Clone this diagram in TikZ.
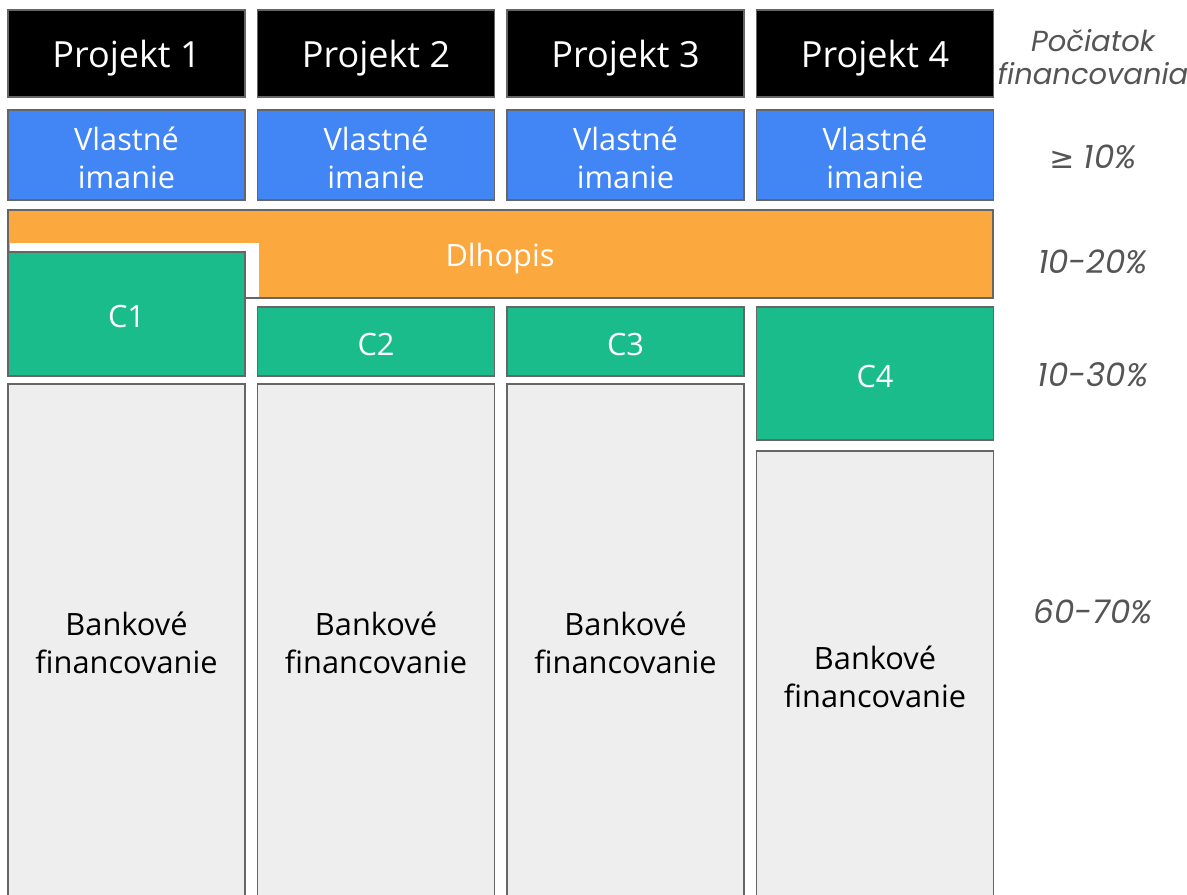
\documentclass[tikz,border=0pt]{standalone}
\usepackage{fontspec}
\setmainfont{Open Sans}
\newfontfamily\notefont{Poppins}
\newfontfamily\symfont{DejaVu Sans}

\definecolor{boxline}{HTML}{666666}
\definecolor{vlastne}{HTML}{4285F4}
\definecolor{dlhopis}{HTML}{FBA93F}
\definecolor{cfin}{HTML}{1ABC8C}
\definecolor{banka}{HTML}{EEEEEE}
\definecolor{notegray}{HTML}{555555}

\begin{document}
\begin{tikzpicture}[x=0.02cm, y=-0.02cm,
  box/.style={draw=boxline, line width=1.1pt},
  big/.style={font=\fontsize{20.5}{24}\selectfont, text=white},
  mid/.style={font=\fontsize{17.5}{21.5}\selectfont, align=center},
  note/.style={font=\notefont\itshape\fontsize{18.5}{21}\selectfont, text=notegray, align=center}]

 \useasboundingbox (0,0) rectangle (1187,894);

 % column step
 \def\d{249.5};

 %projekt + vlastne imanie
 \foreach \i/\num/\name in { 0/1/p1,1/2/p2,2/3/p3,3/4/p4 }{
     \draw[box, fill=black] (8+\i*\d, 10) rectangle (245+\i*\d, 97);
     \node[big] (\name) at (126.5+\i*\d, 58) {Projekt \num};
     \draw[box, fill=vlastne] (8+\i*\d, 110) rectangle (245+\i*\d, 200);
     \node[mid, text=white] (v\num) at (126.5+\i*\d, 158) {Vlastné\\imanie};
 }

 %dlhopis
 \draw[box, fill=dlhopis] (8, 210) rectangle (993, 298);
 \fill[white] (10, 243) rectangle (259, 296.5);
 \node[mid, text=white] (dl) at (500, 259) {Dlhopis};

 %C1 .. C4
 \foreach \i/\num/\top/\bot in { 0/1/252/376,1/2/307/376,2/3/307/376,3/4/307/440 }{
     \draw[box, fill=cfin] (8+\i*\d, \top) rectangle (245+\i*\d, \bot);
     \node[mid, text=white] (c\num) at (126.5+\i*\d, {(\top+\bot)/2+3}) {C\num};
 }

 %bankove financovanie
 \foreach \i/\num/\top in { 0/1/384,1/2/384,2/3/384,3/4/451 }{
     \draw[box, fill=banka] (8+\i*\d, \top) rectangle (245+\i*\d, 910);
     \node[mid] (b\num) at (126.5+\i*\d, {(\top+910)/2-4}) {Bankové\\financovanie};
 }

 %percenta
 \node[note, font=\notefont\itshape\fontsize{16.5}{18.5}\selectfont] (n0) at (1093, 57) {Počiatok\\financovania};
 \node[note] (n1) at (1093, 157) {{\symfont\fontsize{17}{21}\selectfont ≥} 10\%};
 \node[note] (n2) at (1093, 262) {10-20\%};
 \node[note] (n3) at (1093, 375) {10-30\%};
 \node[note] (n4) at (1093, 612) {60-70\%};

\end{tikzpicture}
\end{document}
